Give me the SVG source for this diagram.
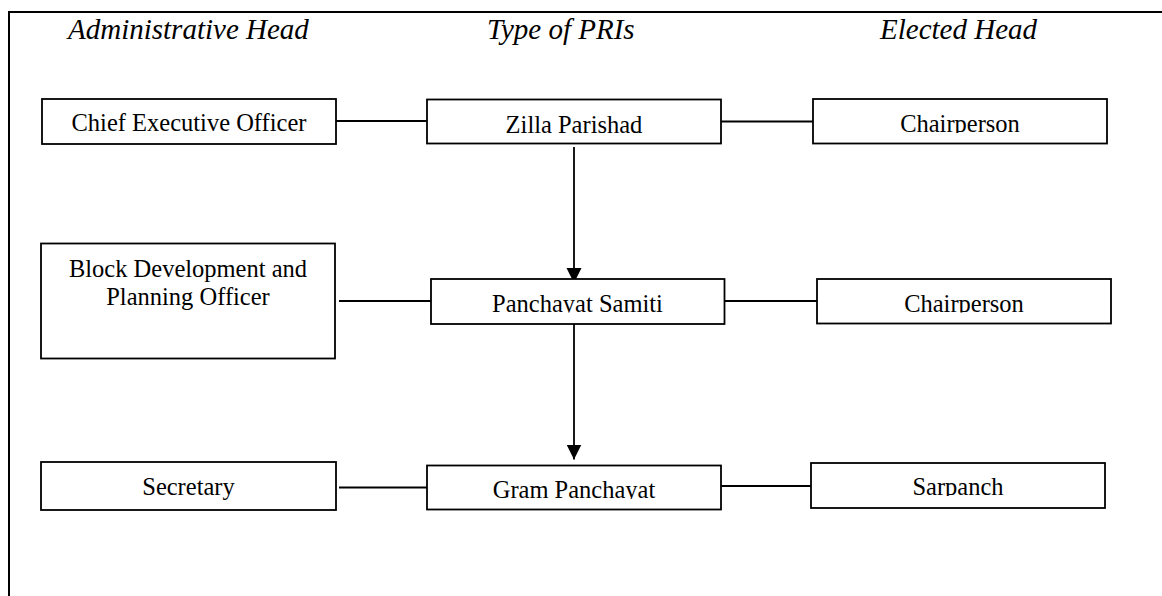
<svg xmlns="http://www.w3.org/2000/svg" width="1162" height="596" viewBox="0 0 1162 596">
<style>
.box{fill:#fff;stroke:#000;stroke-width:1.8}
.lbl{font-family:"Liberation Serif","Times New Roman",serif;font-size:24.5px;fill:#000;text-anchor:middle}
.hdr{font-family:"Liberation Serif","Times New Roman",serif;font-size:29px;font-style:italic;fill:#000}
.ln{stroke:#000;stroke-width:1.8;fill:none}
</style>
<defs>
<marker id="arr" markerUnits="userSpaceOnUse" markerWidth="16" markerHeight="16" refX="15" refY="7.5" orient="auto">
<path d="M0,0 L15,7.5 L0,15 z" fill="#000"/>
</marker>
<clipPath id="c1"><rect x="813" y="99" width="295" height="34"/></clipPath>
<clipPath id="c2"><rect x="430" y="279" width="295" height="33.5"/></clipPath>
<clipPath id="c3"><rect x="816" y="279" width="295" height="33.5"/></clipPath>
<clipPath id="c4"><rect x="426" y="465" width="295" height="34"/></clipPath>
<clipPath id="c5"><rect x="810" y="462" width="295" height="34"/></clipPath>
</defs>
<rect width="1162" height="596" fill="#fff"/>
<g id="frame">
<path d="M9,596 V12 H1162" stroke="#000" stroke-width="2" fill="none"/>
</g>
<g id="headers">
<text class="hdr" x="68" y="39">Administrative Head</text>
<text class="hdr" x="487" y="39">Type of PRIs</text>
<text class="hdr" x="880" y="39">Elected Head</text>
</g>
<g id="connectors">
<line class="ln" x1="336" y1="121" x2="427" y2="121"/>
<line class="ln" x1="721" y1="121.5" x2="813" y2="121.5"/>
<line class="ln" x1="574" y1="147" x2="574" y2="283" marker-end="url(#arr)"/>
<line class="ln" x1="339" y1="301" x2="431" y2="301"/>
<line class="ln" x1="724" y1="301" x2="817" y2="301"/>
<line class="ln" x1="574" y1="324" x2="574" y2="459.5" marker-end="url(#arr)"/>
<line class="ln" x1="339" y1="487.5" x2="427" y2="487.5"/>
<line class="ln" x1="721" y1="486" x2="811" y2="486"/>
</g>
<g id="chief-executive-officer">
<rect class="box" x="42" y="99" width="294" height="45"/>
<text class="lbl" x="189" y="131">Chief Executive Officer</text>
</g>
<g id="zilla-parishad">
<rect class="box" x="427" y="99.5" width="294" height="44"/>
<text class="lbl" x="574" y="132.7">Zilla Parishad</text>
</g>
<g id="chairperson-zp">
<rect class="box" x="813" y="99" width="294" height="44.5"/>
<text class="lbl" x="960" y="131.7" clip-path="url(#c1)">Chairperson</text>
</g>
<g id="block-development-officer">
<rect class="box" x="41" y="243.5" width="294" height="115"/>
<text class="lbl" x="188" y="276.7">Block Development and</text>
<text class="lbl" x="188" y="305">Planning Officer</text>
</g>
<g id="panchayat-samiti">
<rect class="box" x="431" y="279" width="293.5" height="45"/>
<text class="lbl" x="577.5" y="311.7" clip-path="url(#c2)">Panchayat Samiti</text>
</g>
<g id="chairperson-ps">
<rect class="box" x="817" y="279" width="294" height="44.5"/>
<text class="lbl" x="964" y="311.7" clip-path="url(#c3)">Chairperson</text>
</g>
<g id="secretary">
<rect class="box" x="41" y="462" width="295" height="48"/>
<text class="lbl" x="188.5" y="495">Secretary</text>
</g>
<g id="gram-panchayat">
<rect class="box" x="427" y="465.5" width="294" height="44"/>
<text class="lbl" x="574" y="498.3" clip-path="url(#c4)">Gram Panchayat</text>
</g>
<g id="sarpanch">
<rect class="box" x="811" y="463" width="294" height="45"/>
<text class="lbl" x="958" y="495" clip-path="url(#c5)">Sarpanch</text>
</g>
</svg>
